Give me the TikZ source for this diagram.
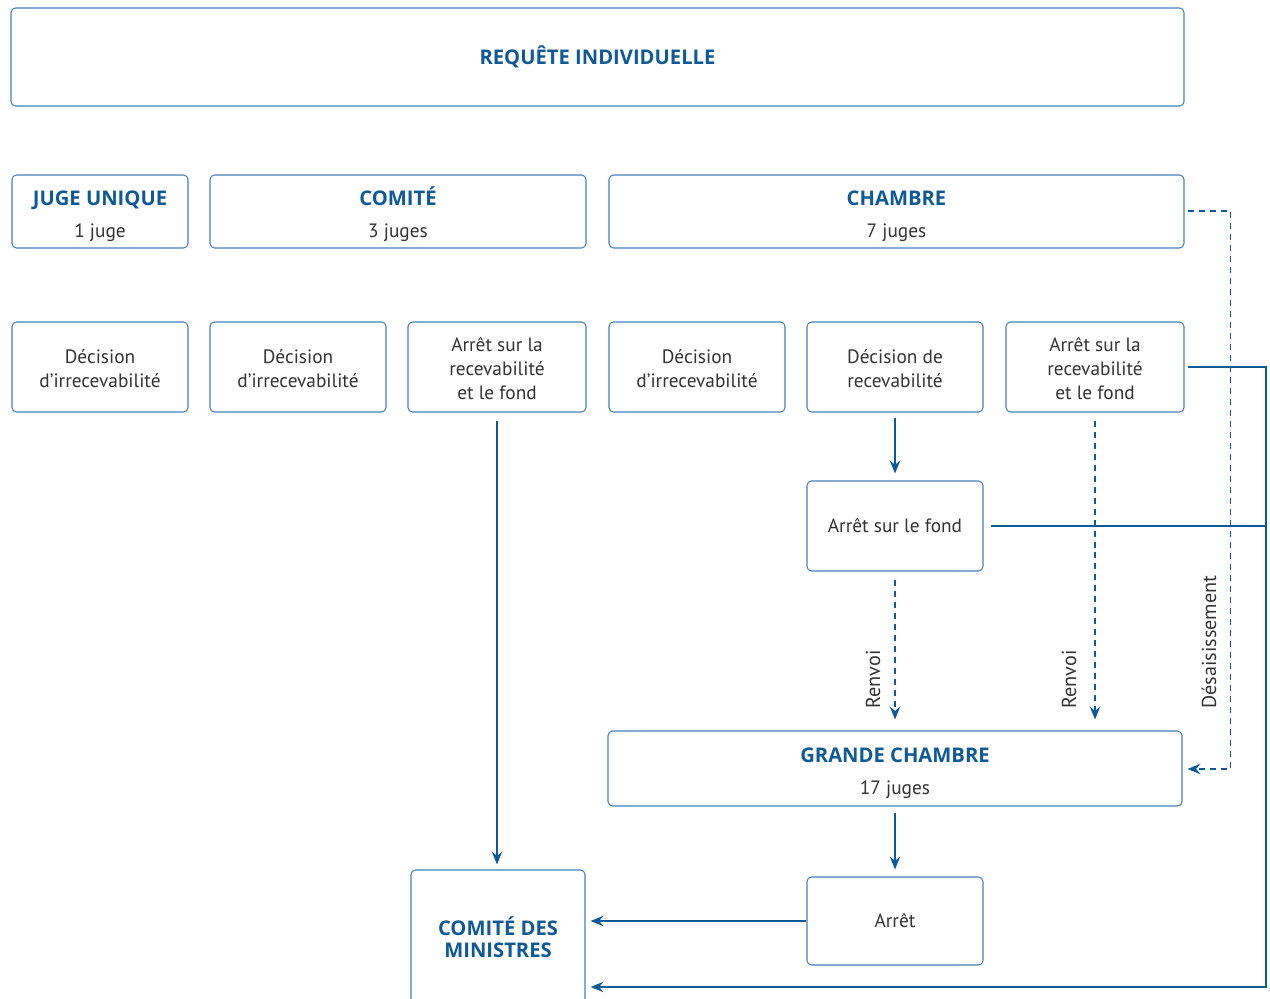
\documentclass[tikz,border=0pt]{standalone}
\usepackage{fontspec}
\setmainfont{PT Sans}
\newfontfamily\hdfont{Open Sans}
\usetikzlibrary{arrows.meta,calc}
\definecolor{tc}{HTML}{0E5A96}
\definecolor{bc}{HTML}{4580B8}
\definecolor{lc}{HTML}{0E5A96}
\definecolor{txc}{HTML}{333333}
\newcommand\bx[6]{\node[box, minimum width={(#4-#2)*0.02cm}, minimum height={(#5-#3)*0.02cm}] (#1) at ({(#2+#4)/2},{(#3+#5)/2}) {#6};}
\newcommand\sx{\rule{0pt}{10pt}}
\newcommand\hd[2]{\rule{0pt}{13.4pt}{\hdfont\bfseries\color{tc}\fontsize{11.5}{13}\selectfont #1}\\[4.5pt]#2}
\tikzset{
  box/.style={draw=bc, line width=0.6pt, rounded corners=0.9mm, align=center, inner sep=0pt, text=txc, font=\fontsize{11}{13.6}\selectfont},
  arr/.style={draw=lc, line width=0.85pt, -{Stealth[length=2.6mm,width=2.1mm,inset=0.9mm]}},
  ln/.style={draw=lc, line width=0.85pt},
  dsh/.style={dash pattern=on 1.2mm off 1mm},
  lab/.style={rotate=90, anchor=west, text=txc, font=\fontsize{11.5}{13}\selectfont, inner sep=0pt}
}
\begin{document}
\begin{tikzpicture}[x=0.02cm, y=-0.02cm]
\useasboundingbox (0,0) rectangle (1270,999);
\bx{req}{11}{8}{1184}{106}{\sx{\hdfont\bfseries\color{tc}\fontsize{11.5}{13}\selectfont REQUÊTE INDIVIDUELLE}}
\bx{juge}{12}{175}{188}{248}{\hd{JUGE UNIQUE}{1 juge}}
\bx{comite}{210}{175}{586}{248}{\hd{COMITÉ}{3 juges}}
\bx{chambre}{609}{175}{1184}{248}{\hd{CHAMBRE}{7 juges}}
\bx{a1}{12}{322}{188}{412}{\sx Décision\\d’irrecevabilité}
\bx{a2}{210}{322}{386}{412}{\sx Décision\\d’irrecevabilité}
\bx{a3}{408}{322}{586}{412}{\sx Arrêt sur la\\recevabilité\\et le fond}
\bx{a4}{609}{322}{785}{412}{\sx Décision\\d’irrecevabilité}
\bx{drec}{807}{322}{983}{412}{\sx Décision de\\recevabilité}
\bx{a6}{1006}{322}{1184}{412}{\sx Arrêt sur la\\recevabilité\\et le fond}
\bx{afond}{807}{481}{983}{571}{Arrêt sur le fond}
\bx{gch}{608}{731}{1182}{806}{\hd{GRANDE CHAMBRE}{17 juges}}
\bx{arret}{807}{877}{983}{965}{Arrêt}
\bx{cm}{411}{870}{585}{1030}{}
\node[align=center, text=tc, font=\hdfont\bfseries\fontsize{11.5}{12.4}\selectfont] (cmt) at (498,937) {COMITÉ DES\\MINISTRES};
\coordinate (rail) at (1266,987);
% connectors
\draw[arr, shorten <=0.16cm, shorten >=0.1cm] (a3.south) -- (a3.south |- cm.north);
\draw[arr, shorten <=0.1cm, shorten >=0.14cm] (drec.south) -- (afond.north);
\draw[arr, dsh, shorten <=0.16cm, shorten >=0.22cm] (afond.south) -- (afond.south |- gch.north);
\draw[arr, dsh, shorten <=0.16cm, shorten >=0.22cm] (a6.south) -- (a6.south |- gch.north);
\draw[arr, dsh, shorten <=0.06cm, shorten >=0.1cm] ([yshift=0.01cm]chambre.east) -- ++(46,0) |- ([yshift=-0.01cm]gch.east);
\draw[arr, shorten <=0.06cm, shorten >=0.1cm] (a6.east) -| (rail) -- (cm.east |- rail);
\draw[ln, shorten <=0.14cm] (afond.east) -- (afond.east -| rail);
\draw[arr, shorten <=0.12cm, shorten >=0.14cm] (gch.south) -- (arret.north);
\draw[arr, shorten >=0.1cm] (arret.west) -- (cm.east |- arret.west);
% labels
\node[lab] (l1) at (873,709) {Renvoi};
\node[lab] (l2) at (1069,709) {Renvoi};
\node[lab] (l3) at (1209,709) {Désaisissement};
\end{tikzpicture}
\end{document}
